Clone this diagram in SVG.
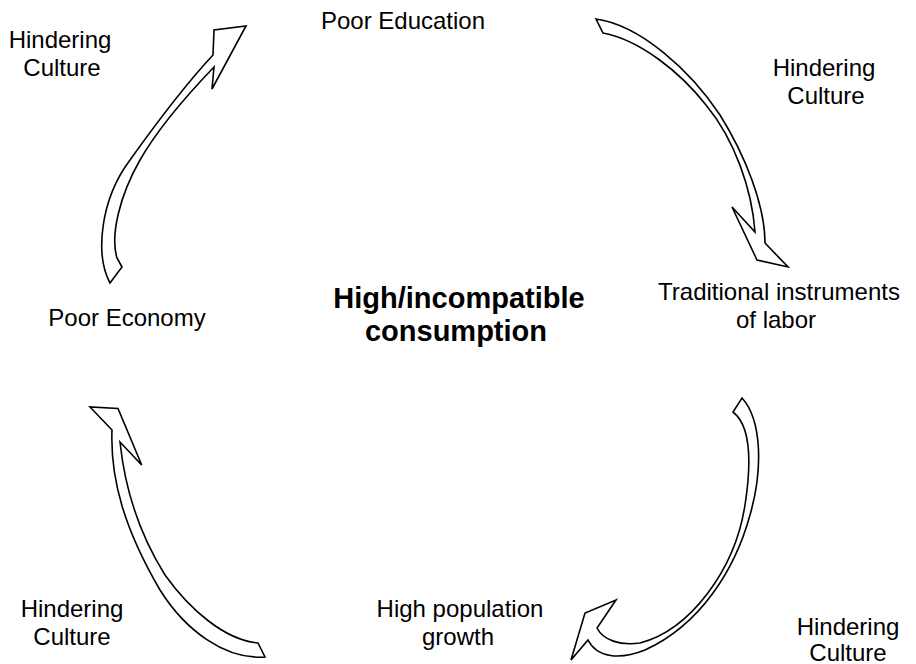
<svg xmlns="http://www.w3.org/2000/svg" width="916" height="664" viewBox="0 0 916 664">
  <style>
    .lbl { font-family: "Liberation Sans", Arial, sans-serif; font-size: 24px; fill: #000; text-anchor: middle; }
    .title { font-family: "Liberation Sans", Arial, sans-serif; font-size: 29px; font-weight: bold; fill: #000; text-anchor: middle; }
    .arrow { fill: #fff; stroke: #000; stroke-width: 1.6; stroke-linejoin: miter; }
  </style>
  <rect width="916" height="664" fill="#fff"/>

  <!-- curved block arrows of the cycle -->
  <g id="connectors">
    <!-- Poor Economy to Poor Education -->
    <path class="arrow" d="M110,283 C95,255 100,200 130,160 C155,125 185,85 213,55 L214,30 L246,26 L212,89 L214,67 C190,92 160,125 140,160 C120,195 110,235 117,258 L122,267 Z"/>
    <!-- Poor Education to Traditional instruments -->
    <path class="arrow" d="M596,19 C640,25 690,70 720,115 C745,155 765,205 765,243 L788,267 L757,260 L732,207 L755,232 C752,190 735,140 706,105 C680,72 640,40 603,33 Z"/>
    <!-- Traditional instruments to High population growth -->
    <path class="arrow" d="M742,398 C762,420 763,470 750,515 C735,570 700,625 645,650 C620,660 597,658 588,640 L571,660 L585,613 L616,600 L597,628 C603,640 620,646 640,643 C690,630 735,570 745,505 C752,460 750,425 733,412 Z"/>
    <!-- High population growth to Poor Economy -->
    <path class="arrow" d="M120,442 L141.7,465 L118,408.5 L90,407 L112,430 C110,480 125,530 160,590 C185,630 225,660 265,657 L258,643 C225,640 190,610 165,575 C140,535 125,490 120,442 Z"/>
  </g>

  <g id="center">
    <text class="title" x="459" y="308">High/incompatible</text>
    <text class="title" x="456" y="341">consumption</text>
  </g>

  <g id="poor-education">
    <text class="lbl" x="403" y="29">Poor Education</text>
  </g>
  <g id="traditional-instruments">
    <text class="lbl" x="779" y="300">Traditional instruments</text>
    <text class="lbl" x="776" y="328">of labor</text>
  </g>
  <g id="high-population-growth">
    <text class="lbl" x="460" y="617">High population</text>
    <text class="lbl" x="458" y="645">growth</text>
  </g>
  <g id="poor-economy">
    <text class="lbl" x="127" y="326">Poor Economy</text>
  </g>

  <g id="culture-top-left">
    <text class="lbl" x="60" y="48">Hindering</text>
    <text class="lbl" x="62" y="76">Culture</text>
  </g>
  <g id="culture-top-right">
    <text class="lbl" x="824" y="76">Hindering</text>
    <text class="lbl" x="826" y="104">Culture</text>
  </g>
  <g id="culture-bottom-right">
    <text class="lbl" x="848" y="635">Hindering</text>
    <text class="lbl" x="848" y="661">Culture</text>
  </g>
  <g id="culture-bottom-left">
    <text class="lbl" x="72" y="617">Hindering</text>
    <text class="lbl" x="72" y="645">Culture</text>
  </g>
</svg>
